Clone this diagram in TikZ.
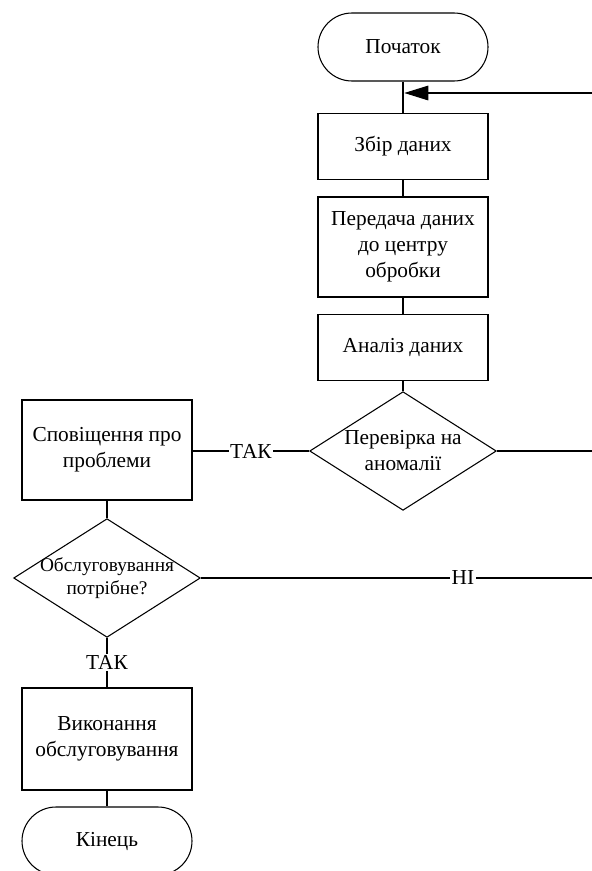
\documentclass[tikz,border=0pt]{standalone}
\usepackage{fontspec}
\setmainfont{LiberationSerif}[Extension=.ttf, UprightFont=*-Regular, BoldFont=*-Bold]
\usetikzlibrary{shapes.geometric,arrows.meta}
\tikzset{
  process/.style={draw, rectangle, minimum width=127.5pt, align=center, inner sep=2pt},
  terminal/.style={draw, rectangle, rounded corners=25.5pt, minimum width=127.5pt, minimum height=51pt},
  decision/.style={draw, diamond, minimum width=140pt, minimum height=89pt, inner sep=0pt},
  yesno/.style={fill=white, inner sep=1pt},
}
\begin{document}
\begin{tikzpicture}[x=0.75pt,y=-0.75pt,line width=0.8pt,font=\rmfamily\fontsize{16}{19.5}\selectfont]
  \useasboundingbox (0,0) rectangle (592,871);

  % Main column: from the start down to the check.
  \node[terminal] (start) at (403,47) {Початок};
  \node[process, minimum height=50pt] (collect) at (403,146.5) {Збір даних};
  \node[process, minimum height=75pt] (transfer) at (403,247) {Передача даних\\до центру\\обробки};
  \node[process, minimum height=49pt] (analyse) at (403,347.5) {Аналіз даних};
  \node[decision, label={[align=center]center:Перевірка на\\аномалії}] (check) at (403,451) {};

  % Left column: notification, service and end.
  \node[process, minimum height=75pt] (notify) at (107,450) {Сповіщення про\\проблеми};
  \node[decision, label={[align=center, font=\rmfamily\fontsize{14.5}{17.5}\selectfont]center:Обслуговування\\потрібне?}] (service) at (107,578) {};
  \node[process, minimum height=76.5pt] (perform) at (107,739) {Виконання\\обслуговування};
  \node[terminal] (finish) at (107,841) {Кінець};

  % Loose ends at the right border.
  \coordinate (loopin) at (592,93);
  \coordinate (checkout) at (592,451);
  \coordinate (noout) at (592,578);

  \draw (start) -- (collect);
  \draw (collect) -- (transfer);
  \draw (transfer) -- (analyse);
  \draw (analyse) -- (check);
  \draw[-{Triangle[length=18pt,width=11pt]}, shorten >=1pt] (loopin) -- (loopin -| start.south);
  \draw (check.east) -- (checkout);
  \draw (check.west) -- node[yesno] {ТАК} (notify.east |- check.west);
  \draw (notify) -- (service);
  \draw (service.east) -- node[yesno, pos=0.67] {НІ} (noout);
  \draw (service) -- node[yesno] {ТАК} (perform);
  \draw (perform) -- (finish);
\end{tikzpicture}
\end{document}
